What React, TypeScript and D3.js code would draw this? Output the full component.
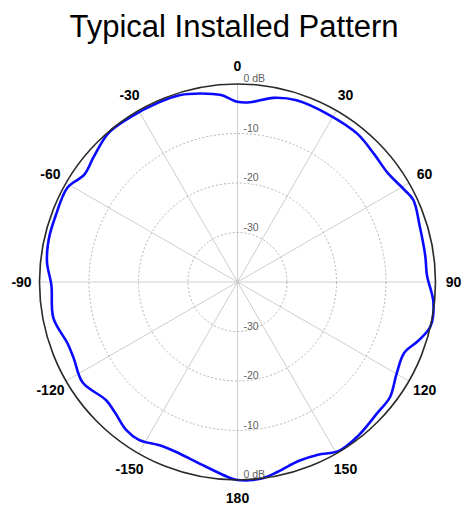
import React from "react";
import * as d3 from "d3";

const title = "Typical Installed Pattern";
const angleTicks = [0, 30, 60, 90, 120, 150, 180, -150, -120, -90, -60, -30];
const angleLabels = ["0", "30", "60", "90", "120", "150", "180", "-150", "-120", "-90", "-60", "-30"];
const ringValues = [0, -10, -20, -30];
const ringLabels = ["0 dB", "-10", "-20", "-30"];

// pattern: angle (deg, clockwise from top) and gain (dB)
const patternAngles = [
  -180, -177, -170, -160, -155, -148, -143, -137, -132, -123, -115, -110, -101, -91, -84, -77, -70, -61, -55,
  -49, -41, -33, -24, -17, -11, -5, 0, 4, 11, 18, 29, 39, 47, 54, 61, 65, 73, 82, 88, 96, 103, 108, 113, 120,
  127, 133, 142, 149, 155, 161, 168, 173,
];
const patternGain = [
  0, -0.6, -2.2, -3.5, -3.5, -2.4, -2.6, -3.8, -4.3, -2.7, -3.5, -3.5, -2.1, -2.4, -1.3, -0.9, -0.9, -0.7, -2.2,
  -1.5, -0.2, -0.3, -0.4, -0.5, -1.2, -2.1, -3.6, -3.6, -2.1, -1.4, -1.5, -1.5, -2.2, -2.5, -1.5, -0.8, -1.5, -1.7,
  -1.7, -0.2, 0, -1.6, -3.4, -2.9, -1.4, -1.3, -0.5, -0.2, -1.5, -1.8, -0.8, 0,
];

const W = 465;
const H = 506;
const cx = 237.5;
const cy = 282;
const R = 198;

export default function App() {
  const r = d3.scaleLinear().domain([-40, 0]).range([0, R]);
  const pts: [number, number][] = patternAngles.map((a, i) => [(a * Math.PI) / 180, r(patternGain[i])]);
  const line = d3
    .lineRadial<[number, number]>()
    .angle((d) => d[0])
    .radius((d) => d[1])
    .curve(d3.curveCatmullRomClosed.alpha(0.5));
  const pathD = line(pts) || "";
  const labelR = 216;
  return (
    <div style={{ position: "absolute", left: 0, top: 0 }}>
      <svg width={W} height={H} style={{ display: "block", background: "#fff" }} fontFamily="Arial, 'Liberation Sans', sans-serif">
        <text x={234} y={37} textAnchor="middle" fontSize={31} fill="#000">
          {title}
        </text>
        <g transform={`translate(${cx},${cy})`}>
          {angleTicks.map((a) => {
            const t = (a * Math.PI) / 180;
            return (
              <line
                key={"s" + a}
                x1={0}
                y1={0}
                x2={R * Math.sin(t)}
                y2={-R * Math.cos(t)}
                stroke="#c8c8c8"
                strokeWidth={0.9}
              />
            );
          })}
          {ringValues.slice(1).map((v) => (
            <circle key={"r" + v} r={r(v)} fill="none" stroke="#aaaaaa" strokeWidth={0.9} strokeDasharray="2,2" />
          ))}
          <path d={pathD} fill="none" stroke="#0a0aff" strokeWidth={2.6} strokeLinejoin="round" />
          <circle r={R} fill="none" stroke="#2a2a2a" strokeWidth={1.6} />
          {ringValues.map((v, i) => (
            <g key={"rl" + v}>
              <text x={6} y={-r(v) - 2} fontSize={10.5} fill="#606060">
                {ringLabels[i]}
              </text>
              <text x={6} y={r(v) - 2} fontSize={10.5} fill="#606060">
                {ringLabels[i]}
              </text>
            </g>
          ))}
          {angleTicks.map((a, i) => {
            const t = (a * Math.PI) / 180;
            return (
              <text
                key={"al" + a}
                x={labelR * Math.sin(t)}
                y={-labelR * Math.cos(t)}
                textAnchor="middle"
                dominantBaseline="central"
                fontSize={14}
                fontWeight="bold"
                fill="#000"
              >
                {angleLabels[i]}
              </text>
            );
          })}
        </g>
      </svg>
    </div>
  );
}
